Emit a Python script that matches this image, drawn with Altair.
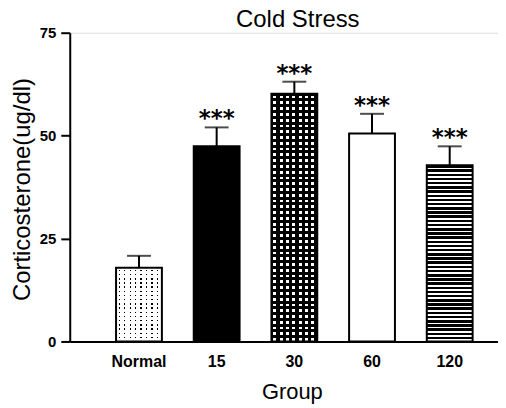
import altair as alt
import pandas as pd

groups = ["Normal", "15", "30", "60", "120"]
means = [17.9, 47.4, 60.2, 50.5, 42.8]
errs = [2.9, 4.6, 2.9, 4.8, 4.6]
stars = ["", "***", "***", "***", "***"]
y_ticks = [0, 25, 50, 75]

df = pd.DataFrame({"group": groups, "mean": means, "err": errs, "star": stars})
df["top"] = df["mean"] + df["err"]

H = 310
W = 430
Y_MAX = 75
BAR_W = 46


def stops_for(L, period, on_px, phase, on_color, off_color):
    stops = []

    def add(color, a, b):
        a = max(0.0, min(L, a))
        b = max(0.0, min(L, b))
        if b > a:
            stops.append({"offset": a / L, "color": color})
            stops.append({"offset": b / L, "color": color})

    cur = 0.0
    s = phase
    while s < L:
        add(off_color, cur, s)
        add(on_color, s, s + on_px)
        cur = s + on_px
        s += period
    add(off_color, cur, L)
    return stops


def grad(stops, horizontal):
    if horizontal:
        return {"gradient": "linear", "x1": 0, "y1": 0, "x2": 1, "y2": 0, "stops": stops}
    return {"gradient": "linear", "x1": 0, "y1": 0, "x2": 0, "y2": 1, "stops": stops}


CLEAR = "rgba(255,255,255,0)"
FONT = "Liberation Sans"

x_enc = alt.X(
    "group:N",
    sort=groups,
    scale=alt.Scale(paddingInner=0.41, paddingOuter=0.4615, align=0.646),
    axis=alt.Axis(
        title="Group",
        ticks=False,
        labelAngle=0,
        labelFont=FONT,
        labelFontWeight="bold",
        labelFontSize=16,
        labelColor="black",
        labelPadding=12,
        domainColor="black",
        domainWidth=2,
        titleFont=FONT,
        titleFontSize=22,
        titleFontWeight="normal",
        titleColor="black",
        titleX=223,
        titleY=57,
        titleBaseline="alphabetic",
    ),
)
y_enc = alt.Y(
    "mean:Q",
    scale=alt.Scale(domain=[0, Y_MAX], nice=False),
    axis=alt.Axis(
        title="Corticosterone(ug/dl)",
        values=y_ticks,
        grid=False,
        labelFont=FONT,
        labelFontWeight="bold",
        labelFontSize=15,
        labelColor="black",
        labelPadding=5,
        tickSize=9,
        tickWidth=2,
        tickColor="black",
        domainColor="black",
        domainWidth=2,
        titleFont=FONT,
        titleFontSize=24,
        titleFontWeight="normal",
        titleColor="black",
        titleX=-47,
        titleY=157,
        titleAngle=-90,
        titleAlign="center",
        titleBaseline="middle",
    ),
)

base = alt.Chart(df).encode(x=x_enc, y=y_enc)


def bar_layer(g, fill):
    return base.transform_filter(alt.datum.group == g).mark_bar(fill=fill, strokeWidth=0)


def hpx(g):
    return means[groups.index(g)] / Y_MAX * H


layers = []
# Normal: black dots on white
layers.append(bar_layer("Normal", "black"))
layers.append(bar_layer("Normal", grad(stops_for(BAR_W, 5.5, 1.4, 2.5, CLEAR, "white"), True)))
layers.append(bar_layer("Normal", grad(stops_for(hpx("Normal"), 4.2, 1.4, 2.0, CLEAR, "white"), False)))
# 15: solid black
layers.append(bar_layer("15", "black"))
# 30: white squares on black
layers.append(bar_layer("30", "white"))
layers.append(bar_layer("30", grad(stops_for(BAR_W, 6.3, 3.0, 2.0, CLEAR, "black"), True)))
layers.append(bar_layer("30", grad(stops_for(hpx("30"), 5.8, 2.8, 2.0, CLEAR, "black"), False)))
# 60: white
layers.append(bar_layer("60", "white"))
# 120: horizontal white lines on black
layers.append(bar_layer("120", grad(stops_for(hpx("120"), 4.2, 1.7, 2.5, "white", "black"), False)))

outline = base.mark_bar(fill="transparent", stroke="black", strokeWidth=2)
rule = base.mark_rule(color="black", strokeWidth=2).encode(y="mean:Q", y2="top:Q")
cap = base.mark_tick(color="black", size=24, thickness=2).encode(y="top:Q")
txt = base.mark_text(
    font="DejaVu Sans", fontWeight="bold", fontSize=23, baseline="alphabetic", dy=-1, color="black"
).encode(y="top:Q", text="star:N")

chart = alt.layer(*layers, outline, rule, cap, txt).properties(
    width=W,
    height=H,
    autosize=alt.AutoSizeParams(type="none"),
    padding={"left": 62, "top": 24, "right": 0, "bottom": 66},
    title=alt.TitleParams(
        "Cold Stress", font=FONT, fontSize=24, fontWeight="normal", color="black",
        dx=14, dy=8, offset=2,
    ),
).configure_view(stroke=None).configure(background="white")

chart.save("out.html", embed_options={"renderer": "svg", "actions": False})
